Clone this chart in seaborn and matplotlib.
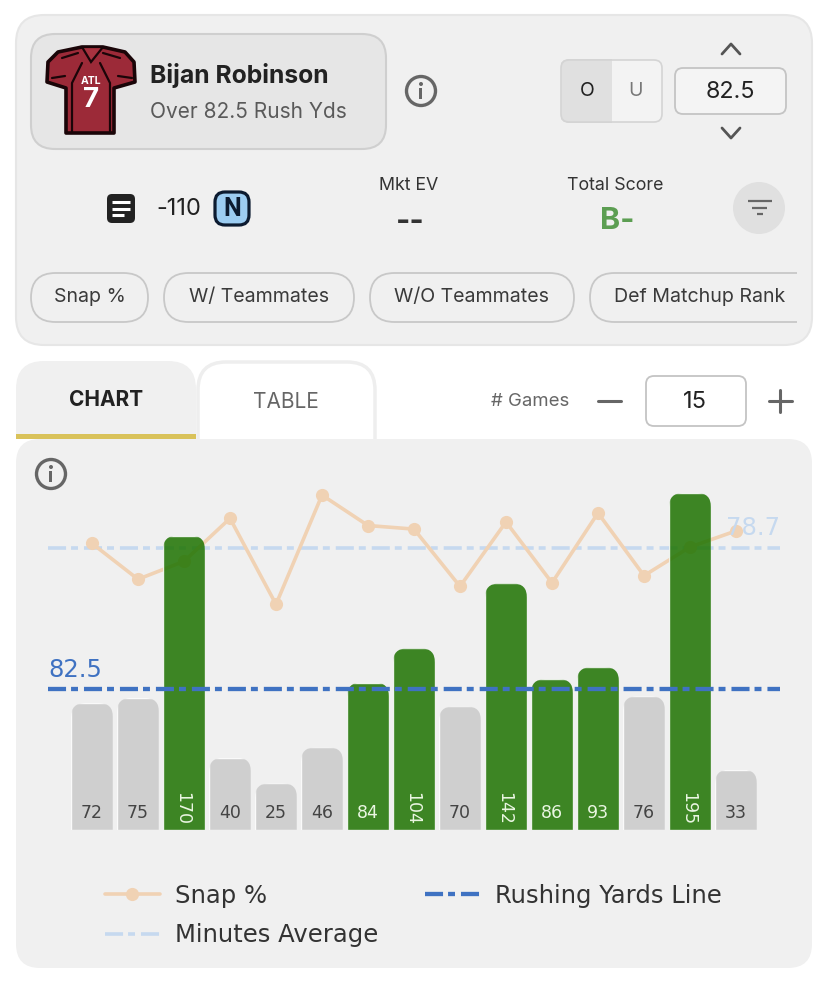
import matplotlib
matplotlib.use('Agg')
import matplotlib.pyplot as plt
import seaborn as sns
from matplotlib.patches import FancyBboxPatch, Rectangle, Circle, Polygon
from matplotlib.transforms import IdentityTransform

# chart values
games = [str(i) for i in range(1, 16)]
rush_yards = [72, 75, 170, 40, 25, 46, 84, 104, 70, 142, 86, 93, 76, 195, 33]
snap_pct = [80, 70, 75, 87, 63, 93.5, 85, 84, 68, 86, 69, 88.5, 71, 79, 83.5]
rush_line = 82.5
minutes_avg = 78.7
chips = ['Snap %', 'W/ Teammates', 'W/O Teammates', 'Def Matchup Rank']

GREEN = '#1d7300'
GRAY = '#cacaca'
PEACH = '#f0d2b4'
BLUE = '#3f72c2'
LIGHT_BLUE = '#c6d9ef'
PANEL = '#f0f0f0'
W, H = 828, 982

sns.set_theme(style='white')
plt.rcParams['font.family'] = ['Inter', 'DejaVu Sans']
plt.rcParams['lines.scale_dashes'] = False
DASHDOT = (0, (13, 3.6, 5, 4.3))

fig = plt.figure(figsize=(W / 100, H / 100), dpi=100, facecolor='white')


#---------------------------------------------------
#   UI layer, drawn in pixel coordinates
#---------------------------------------------------
bg = fig.add_axes([0, 0, 1, 1])
bg.set_xlim(0, W)
bg.set_ylim(H, 0)
bg.axis('off')


def rbox(x0, y0, x1, y1, r, fc, ec='none', lw=1.5, z=1):
	p = FancyBboxPatch((x0 + r, y0 + r), x1 - x0 - 2 * r, y1 - y0 - 2 * r,
		boxstyle=f'round,pad={r},rounding_size={r}', fc=fc, ec=ec, lw=lw, zorder=z)
	bg.add_patch(p)
	return p


def clip_rect(p, x0, y0, x1, y1):
	p.set_clip_path(Rectangle((x0, y0), x1 - x0, y1 - y0, transform=bg.transData))


def label(x, y, s, size, color='#333333', weight='normal', ha='center', family=None):
	bg.text(x, y, s, fontsize=size, color=color, fontweight=weight, ha=ha, va='center',
		family=family or ['Inter', 'DejaVu Sans'], zorder=6)


def info_icon(x, y):
	bg.add_patch(Circle((x, y), 14.5, fc='none', ec='#666666', lw=2.4, zorder=5))
	bg.add_patch(Rectangle((x - 1.5, y - 3), 3, 11, fc='#666666', ec='none', zorder=5))
	bg.add_patch(Circle((x, y - 7), 2, fc='#666666', ec='none', zorder=5))


# top card
rbox(16, 15, 812, 345, 28, PANEL, '#e6e6e6', 1.5)
rbox(31, 34, 386, 149, 24, '#e6e6e6', '#cfcfcf', 1.5, 2)

# jersey
jersey = [(82, 47), (103, 47), (125, 52), (134, 62), (135, 82), (114, 88), (114, 133), (66, 133),
	(66, 88), (47, 82), (48, 62), (58, 52)]
bg.add_patch(Polygon(jersey, closed=True, fc='#9c2a38', ec='#1a0508', lw=2.6, joinstyle='round', zorder=3))
bg.add_patch(Polygon([(82, 47), (91, 62), (103, 47)], closed=True, fc='#a8323f', ec='#1a0508', lw=1.6, zorder=4))
for xs, ys in [([82, 72, 72], [63, 83, 133]), ([100, 110, 110], [63, 83, 133]),
		([62, 78], [58, 53]), ([103, 120], [53, 58]), ([52, 65], [78, 76]), ([118, 132], [76, 78])]:
	bg.plot(xs, ys, color='#1a0508', lw=1.6, zorder=4)
label(91, 81, 'ATL', 7.5, 'white', 'bold')
label(91, 100, '7', 20, 'white', 'bold')

label(150, 75, 'Bijan Robinson', 17.8, '#222222', 'bold', ha='left')
label(150, 112, 'Over 82.5 Rush Yds', 15, '#5a5a5a', ha='left')
info_icon(421, 91)

# over / under toggle
rbox(561, 60, 662, 122, 8, '#f3f3f3', '#d4d4d4', 1.2, 2)
clip_rect(rbox(561, 60, 662, 122, 8, '#e0e0e0', '#d4d4d4', 1.2, 3), 561, 58, 612, 124)
label(587, 91, 'O', 14, '#222222')
label(636, 91, 'U', 14, '#777777')
rbox(675, 68, 786, 114, 8, '#f4f4f4', '#c4c4c4', 1.3, 2)
label(730, 92, '82.5', 16.8, '#222222')
bg.plot([722, 731, 740], [54, 44, 54], color='#555555', lw=2, zorder=4)
bg.plot([722, 731, 740], [128, 138, 128], color='#555555', lw=2, zorder=4)

# odds row
rbox(107, 194, 135, 223, 5, '#222222', z=3)
for y0, x1 in [(202, 130), (208.5, 130), (215, 124)]:
	bg.plot([112, x1], [y0, y0], color='white', lw=2.2, solid_capstyle='butt', zorder=4)
label(179, 208.5, '-110', 17, '#222222')
rbox(215, 192, 249, 225, 10, '#9ccdf2', '#0c1b30', 2.3, 3)
label(232, 209, 'N', 18, '#0c1b30', 'bold', family=['Roboto'])
label(409, 185, 'Mkt EV', 12.8, '#333333')
label(410, 222, '--', 22, '#333333', 'bold')
label(615, 185, 'Total Score', 12.8, '#333333')
label(617, 221, 'B-', 22, '#5c9e52', 'bold')
bg.add_patch(Circle((759, 208), 26, fc='#e0e0e0', ec='none', zorder=2))
for x0, x1, y0 in [(748, 772, 201), (752, 767, 207.5), (757, 763, 214)]:
	bg.plot([x0, x1], [y0, y0], color='#666666', lw=1.6, solid_capstyle='butt', zorder=4)

# filter chips
chip_x = [(31, 148), (164, 354), (370, 574), (590, 830)]
chip_text = [89.5, 259, 472, 700]
for name, (x0, x1), xt in zip(chips, chip_x, chip_text):
	c = rbox(x0, 273, x1, 322, 24.5, PANEL, '#c8c8c8', 1.3, 2)
	clip_rect(c, x0 - 2, 270, min(x1 + 2, 797), 325)
	label(xt, 297.5, name, 14.1, '#3a3a3a')

# tabs
clip_rect(rbox(16, 361, 196, 480, 28, PANEL, z=2), 14, 358, 198, 436)
clip_rect(rbox(198, 362, 375, 480, 28, 'white', '#eeeeee', 2.5, 2), 190, 358, 380, 439)
bg.add_patch(Rectangle((16, 434), 180, 5, fc='#d9c25a', ec='none', zorder=3))
label(106, 400, 'CHART', 15, '#222222', 'bold')
label(286, 402, 'TABLE', 15, '#666666')
label(530, 401, '# Games', 13.4, '#666666')
bg.plot([598, 621], [401, 401], color='#666666', lw=2.2, zorder=4)
rbox(646, 376, 746, 426, 8, 'white', '#c4c4c4', 1.3, 2)
label(695, 401.5, '15', 17, '#222222')
bg.plot([769, 792], [401, 401], color='#666666', lw=2.2, zorder=4)
bg.plot([780.5, 780.5], [390, 412], color='#666666', lw=2.2, zorder=4)

# chart panel
rbox(16, 439, 812, 968, 24, PANEL, z=3)
info_icon(51, 474)

#---------------------------------------------------
#   Bars and lines
#---------------------------------------------------
# axes run from x=48..780 and y=470..830 in pixels
ax2 = fig.add_axes([48 / W, 1 - 830 / H, 732 / W, 360 / H])
ax = ax2.twinx()
ax3 = ax2.twinx()
ax2.set_zorder(4)
ax.set_zorder(5)
ax3.set_zorder(6)
for a in (ax, ax2, ax3):
	a.patch.set_visible(False)

over = ['over' if v > rush_line else 'under' for v in rush_yards]
sns.barplot(x=games, y=rush_yards, hue=over, palette={'over': GREEN, 'under': GRAY}, dodge=False,
	width=42 / 46, saturation=1, alpha=0.85, legend=False, ax=ax, zorder=2)
sns.lineplot(x=list(range(15)), y=snap_pct, color=PEACH, linewidth=2.6, marker='o', markersize=9.5,
	markeredgewidth=0, label='Snap %', legend=False, ax=ax2, zorder=1)

# the bar scale has its zero 4px above the panel floor, bars run on down to the floor
floor = 4 / 1.708
ax.set_xlim(-44 / 46, 688 / 46)
ax2.set_xlim(-44 / 46, 688 / 46)
ax.set_ylim(-floor, 356 / 1.708)
ax2.set_ylim(0, 100.5)
ax3.set_ylim(0, 360 / 1.709)
for a in (ax, ax2, ax3):
	a.axis('off')

line_h = ax3.axhline(rush_line, color=BLUE, lw=3.1, linestyle=DASHDOT, label='Rushing Yards Line', zorder=3)
avg_h = ax2.axhline(minutes_avg, color=LIGHT_BLUE, lw=2.6, linestyle=DASHDOT, label='Minutes Average', zorder=0)
ax3.text(-44 / 46, rush_line + 4, '82.5', fontsize=17.5, color=BLUE, family='DejaVu Sans', va='bottom')
ax2.text(688 / 46, minutes_avg + 2.2, '78.7', fontsize=17.5, color=LIGHT_BLUE, family='DejaVu Sans',
	ha='right', va='bottom')

# value labels inside the bars
for i, v in enumerate(rush_yards):
	col = '#eaf6e2' if v > rush_line else '#444444'
	if v >= 100:
		ax.text(i - 0.03, 10.5, str(v), rotation=270, fontsize=12.5, color=col, ha='center', va='center',
			family='DejaVu Sans', zorder=4)
	else:
		ax.text(i, 7.6, str(v), fontsize=12.5, color=col, ha='center', va='center',
			family='DejaVu Sans', zorder=4)

# round the top corners of the bars by clipping in pixel space
for p in ax.patches:
	p.set_height(p.get_height() + floor)
	p.set_y(-floor)
	(x0, y0), (x1, y1) = ax.transData.transform([(p.get_x(), p.get_y()), (p.get_x() + p.get_width(), p.get_y() + p.get_height())])
	r = 14
	clip = FancyBboxPatch((x0 + r, y0 - 40), x1 - x0 - 2 * r, y1 - y0 + 40 - r,
		boxstyle=f'round,pad={r},rounding_size={r}', transform=IdentityTransform())
	p.set_clip_path(clip)

# legend
handles = [ax2.lines[0], avg_h, line_h]
fig.legend(handles=handles, labels=[h.get_label() for h in handles], ncol=2, frameon=False,
	loc='upper left', bbox_to_anchor=(105 / W, 1 - 884 / H), borderpad=0, borderaxespad=0,
	handlelength=2.25, handletextpad=0.62, columnspacing=1.93, labelspacing=0.62,
	prop={'family': 'DejaVu Sans', 'size': 17.5}, labelcolor='#333333')

plt.savefig('out.png', dpi=100)
